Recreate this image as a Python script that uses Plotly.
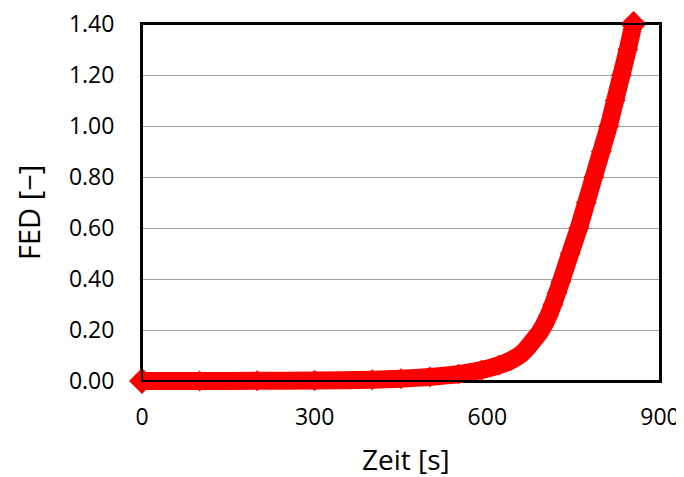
import plotly.graph_objects as go

# Data
zeit_s = [0, 100, 200, 300, 400, 450, 500, 550, 590, 620, 640, 660, 670, 680, 690,
          698, 706, 714, 721, 728, 744, 759, 772, 785, 798, 811, 822, 833, 844, 854]
fed = [0.000, 0.000, 0.001, 0.002, 0.005, 0.009, 0.016, 0.027, 0.043, 0.062, 0.080,
       0.108, 0.132, 0.160, 0.188, 0.218, 0.255, 0.300, 0.345, 0.390, 0.500, 0.600,
       0.700, 0.800, 0.900, 1.000, 1.100, 1.200, 1.300, 1.400]

x_ticks = [0, 300, 600, 900]
y_ticks = [0.0, 0.2, 0.4, 0.6, 0.8, 1.0, 1.2, 1.4]
y_tick_labels = [f"{v:.2f}" for v in y_ticks]

FONT = "Open Sans"
RED = "#ff0000"

# The page body has an 8 px margin, so the figure is drawn 8 px smaller and
# all target positions below are given in figure pixels (viewport - 8).
W, H = 676, 469
L, R, T, B = 112, 2, 2, 76            # outer drawing area (lets the thick band spill over the frame)
fx0, fx1, fy_top, fy_bot = 134, 652, 16, 373
aw, ah = W - L - R, H - T - B
xdom = [(fx0 - L) / aw, (fx1 - L) / aw]
ydom = [(H - B - fy_bot) / ah, (H - B - fy_top) / ah]
xs = (fx1 - fx0) / 900.0
ys = (fy_bot - fy_top) / 1.4
x2range = [(L - fx0) / xs, (W - R - fx0) / xs]
y2range = [-(H - B - fy_bot) / ys, (fy_bot - T) / ys]

n = len(zeit_s)
msize = [16] * n
msize[0] = 20
msize[-1] = 20

fig = go.Figure()
# invisible trace to establish the main (visible) axes
fig.add_trace(go.Scatter(x=[None], y=[None], xaxis="x", yaxis="y", showlegend=False))
fig.add_trace(go.Scatter(
    x=zeit_s, y=fed, mode="lines+markers", xaxis="x2", yaxis="y2", opacity=1,
    line=dict(color=RED, width=18, shape="spline", smoothing=0.5),
    marker=dict(symbol="diamond", size=msize, color=RED, opacity=1, line=dict(width=0)),
    cliponaxis=False, showlegend=False, hoverinfo="x+y",
))

fig.update_layout(
    width=W, height=H,
    margin=dict(l=L, r=R, t=T, b=B),
    paper_bgcolor="white", plot_bgcolor="rgba(0,0,0,0)",
    font=dict(family=FONT, color="#000000"),
    xaxis=dict(
        domain=xdom, anchor="y",
        range=[0, 900], tickvals=x_ticks, ticktext=[str(v) for v in x_ticks],
        showgrid=False, zeroline=False,
        showline=True, linecolor="#000000", linewidth=2, mirror=True,
        ticks="", ticklabelstandoff=14, automargin=False, ticklabeloverflow="allow",
        tickfont=dict(size=23, family=FONT),
    ),
    yaxis=dict(
        domain=ydom, anchor="x",
        range=[0, 1.4], tickvals=y_ticks, ticktext=y_tick_labels,
        showgrid=True, gridcolor="#a0a0a0", gridwidth=1.3, zeroline=False,
        showline=True, linecolor="#000000", linewidth=2, mirror=True,
        ticks="", ticklabelstandoff=21, automargin=False, ticklabeloverflow="allow",
        tickfont=dict(size=23, family=FONT),
    ),
    xaxis2=dict(domain=[0, 1], anchor="y2", range=x2range, visible=False,
                showgrid=False, zeroline=False, fixedrange=True),
    yaxis2=dict(domain=[0, 1], anchor="x2", range=y2range, visible=False,
                showgrid=False, zeroline=False, fixedrange=True),
    shapes=[dict(type="rect", xref="x domain", yref="y domain", x0=0, x1=1, y0=0, y1=1,
                 line=dict(color="#000000", width=2), fillcolor="rgba(0,0,0,0)", layer="above")],
    annotations=[
        dict(text="Zeit [s]", xref="paper", yref="paper",
             x=(398 - L) / aw, y=(H - B - 451) / ah, xanchor="center", yanchor="middle",
             showarrow=False, font=dict(size=28, family=FONT)),
        dict(text="FED [\u2212]", xref="paper", yref="paper", textangle=-90,
             x=(21 - L) / aw, y=(H - B - 205) / ah, xanchor="center", yanchor="middle",
             showarrow=False, font=dict(size=29, family=FONT)),
    ],
)

fig.write_html("out.html")
